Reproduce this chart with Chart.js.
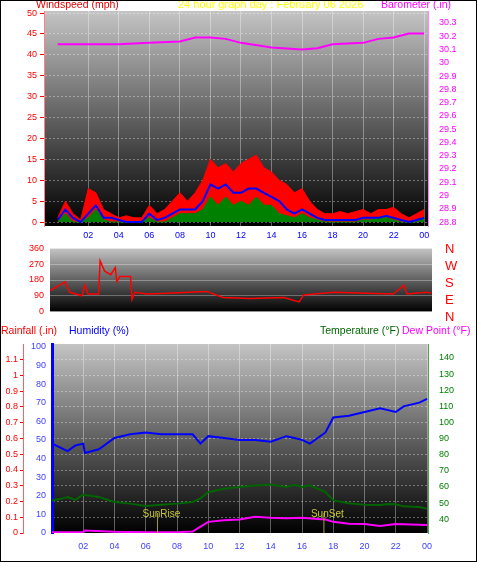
<!DOCTYPE html>
<html><head><meta charset="utf-8">
<script src="https://cdn.jsdelivr.net/npm/chart.js@4"></script>
<style>
body{margin:0;background:#fff;font-family:"Liberation Sans",Arial,sans-serif}
#wrap{position:relative;width:475px;height:560px;border:1px solid #000;overflow:hidden}
canvas{position:absolute;left:-1px}
.t{position:absolute;font-size:10.5px;white-space:nowrap}
.d{position:absolute;font-size:13px;color:#f00;left:444px}
</style></head><body><div id="wrap">
<canvas id="c1" width="477" height="245" style="top:-1px"></canvas>
<canvas id="c2" width="477" height="80" style="top:239px"></canvas>
<canvas id="c3" width="477" height="242" style="top:319px"></canvas>
<div class="t" style="left:35px;top:-3px;color:#e00000">Windspeed (mph)</div>
<div class="t" style="left:177px;top:-3px;color:#ffff00;font-size:11px">24 hour graph day : February 06 2026</div>
<div class="t" style="left:380px;top:-3px;color:#ff00ff">Barometer (.in)</div>
<div class="d" style="top:240px">N</div><div class="d" style="top:257px">W</div><div class="d" style="top:274px">S</div><div class="d" style="top:291px">E</div><div class="d" style="top:308px">N</div>
<div class="t" style="left:0px;top:323px;color:#f00">Rainfall (.in)</div>
<div class="t" style="left:68px;top:323px;color:#0000ff">Humidity (%)</div>
<div class="t" style="left:319px;top:323px;color:#006400">Temperature (°F)</div>
<div class="t" style="left:401px;top:323px;color:#ff00ff">Dew Point (°F)</div>
</div>
<script>
const hourTicks=[2,4,6,8,10,12,14,16,18,20,22,24];
const hourLabels=['02','04','06','08','10','12','14','16','18','20','22','00'];
const windHours=[0,0.5,1,1.5,2,2.5,3,3.5,4,4.5,5,5.5,6,6.5,7,7.5,8,8.5,9,9.5,10,10.5,11,11.5,12,12.5,13,13.5,14,14.5,15,15.5,16,16.5,17,17.5,18,18.5,19,19.5,20,20.5,21,21.5,22,22.5,23,23.5,24];
const windGust=[1,5,2,0.5,8,7,3,2,1,1.5,1,1,4,2,3,5,7,5,7,10,15,13,14,12,14,15,16,13,12,10,9,7,8,5,3,2,2,2.5,2,2.5,3,2,3,3,3.5,2,1,2,3];
const windAvg=[0.5,3,1,0,2,4,1,1,0.5,0,0,0,2,0.5,1,2,3,3,3,5,9,8,9,7,7,8,8,7,6,5,3,2,3,2,1,0.5,0.5,0.5,0.5,0.5,1,1,1,1.5,1,0.5,0,0.5,1];
const windMin=[0,2,0,0,1,3,0.5,0,0,0,0,0,1,0,0,1,2,2,2,3,6,4,6,4,5,4,6,4,4,2,1.5,1,2,1,0.5,0,0,0,0,0,0.5,0.5,1,1,0.5,0,0,0,1];
const baroHours=[0,4,6,8,9,10,11,12,14,16,17,18,20,21,22,23,24];
const baro=[30.14,30.14,30.15,30.16,30.19,30.19,30.18,30.15,30.115,30.10,30.11,30.14,30.15,30.18,30.19,30.22,30.22];
const dirHours=[-0.9,0.1,0.4,1.2,1.4,1.6,2.3,2.4,2.7,3.1,3.4,3.5,3.7,4.4,4.5,4.7,5.5,6.8,9.4,10.5,12.3,14.5,15.5,15.8,17.8,20,21.7,22.4,22.6,23.9,24.2];
const windDir=[120,170,110,90,150,100,100,290,230,210,250,170,200,200,70,110,100,105,115,80,75,80,55,95,110,105,100,150,100,110,105];
const thHours=[0,0.5,1,1.5,2,2.1,3,4,5,6,7,8,9,9.5,10,11,12,13,14,15,15.5,16,16.5,17.5,18,19,20,21,21.5,22,22.5,23.5,24];
const humidity=[48,46,44,47,48,43,45,51,53,54,53,53,53,48,52,51,50,50,49,52,51,50,48,54,62,63,65,67,66,65,68,70,72];
const temperature=[51.7,52.5,53.8,52,55.4,55,53.8,50.7,49.7,48.2,49,49.7,50.7,53,56.8,58.9,60,61,61.6,60,61.4,60,61,56.8,51.7,50,49,48.8,49.5,49.3,48,47.6,46.6];
const dewHours=[0,2,2.1,4,6,8,9,9.5,10,11,12,13,14,15,16,17,17.5,18,19,20,21,22,23,24];
const dewPoint=[32,32,33,32.2,32,32,32.4,35.5,38.4,39.4,39.8,41.5,40.9,40.7,41,40.2,39.8,38.4,37.3,37,35.9,37,36.8,36.5];
const rainHours=[0,24];const rainfall=[0,0];
const windTicks=[0,5,10,15,20,25,30,35,40,45,50];
const baroTicks=[28.8,28.9,29,29.1,29.2,29.3,29.4,29.5,29.6,29.7,29.8,29.9,30,30.1,30.2,30.3];
const dirTicks=[0,90,180,270,360];
const humTicks=[0,10,20,30,40,50,60,70,80,90,100];
const rainTicks=[0,0.1,0.2,0.3,0.4,0.5,0.6,0.7,0.8,0.9,1,1.1];
const tempTicks=[40,50,60,70,80,90,100,110,120,130,140];

const F={family:'"Liberation Sans",Arial',size:9};
const xy=(h,v)=>h.map((x,i)=>({x,y:v[i]}));
const bg={id:'bg',beforeDraw(c){const a=c.chartArea,g=c.ctx.createLinearGradient(0,a.top,0,a.bottom);g.addColorStop(0,'#c4c4c4');g.addColorStop(0.45,'#6a6a6a');g.addColorStop(1,'#000');c.ctx.save();c.ctx.fillStyle=g;c.ctx.fillRect(a.left,a.top,a.right-a.left,a.bottom-a.top);c.ctx.restore();}};
const fixT=arr=>s=>{s.ticks=arr.map(v=>({value:v}));};
function xs(min,max,show,color){return{type:'linear',min,max,display:show,afterBuildTicks:fixT(hourTicks),
 ticks:{color,font:F,callback:v=>hourLabels[hourTicks.indexOf(v)]??''},grid:{color:'rgba(255,255,255,0.35)',drawTicks:false},border:{display:false},afterFit:s=>{s.height=show?19:0}};}
const base={responsive:false,animation:false,plugins:{legend:{display:false},tooltip:{enabled:false}},elements:{point:{radius:0},line:{borderWidth:1.5,tension:0}}};

new Chart(c1,{type:'line',plugins:[bg],data:{datasets:[
 {data:xy(windHours,windAvg),borderColor:'#0000ff',borderWidth:2,yAxisID:'w'},
 {data:xy(windHours,windMin),borderColor:'#008000',backgroundColor:'#008000',fill:'origin',borderWidth:1,yAxisID:'w'},
 {data:xy(windHours,windGust),borderColor:'#ff0000',backgroundColor:'#ff0000',fill:'origin',borderWidth:1,yAxisID:'w'},
 {data:xy(baroHours,baro),borderColor:'#ff00ff',borderWidth:2,yAxisID:'b'}]},
 options:{...base,layout:{padding:{top:11}},scales:{
  x:{...xs(-0.9,24.25,true,'#0000ff'),ticks:{color:'#0000ff',font:F,padding:4,callback:v=>hourLabels[hourTicks.indexOf(v)]??''}},
  w:{position:'left',min:-0.95,max:50.5,afterBuildTicks:fixT(windTicks),ticks:{color:'#f00',font:F},grid:{color:'rgba(255,255,255,0.35)',tickColor:'#f00',tickLength:4},border:{color:'#ff8080',dash:[2,2]},afterFit:s=>{s.width=44}},
  b:{position:'right',min:28.77,max:30.39,afterBuildTicks:fixT(baroTicks),ticks:{color:'#f0f',font:F,callback:v=>+v.toFixed(1)},grid:{display:false},border:{color:'#ff80ff',dash:[2,2]},afterFit:s=>{s.width=49}}}}});

new Chart(c2,{type:'line',plugins:[bg],data:{datasets:[{data:xy(dirHours,windDir),borderColor:'#ff0000',borderWidth:1.5,yAxisID:'d'}]},
 options:{...base,layout:{padding:{top:8,bottom:1,right:45}},scales:{
  x:xs(-0.9,24.25,false,'#00f'),
  d:{position:'left',min:0,max:360,afterBuildTicks:fixT(dirTicks),ticks:{color:'#f00',font:F},grid:{color:'rgba(255,255,255,0.3)',tickLength:3},border:{display:false},afterFit:s=>{s.width=50}}}}});

const sun={id:'sun',afterDatasetsDraw(c){const ctx=c.ctx,x=c.scales.x,a=c.chartArea;ctx.save();ctx.strokeStyle='#a0a020';ctx.fillStyle='#c8c832';ctx.font='10px "Liberation Sans"';
 [[6.75,'SunRise',-15],[17.4,'SunSet',-13]].forEach(([h,t,o])=>{const p=x.getPixelForValue(h);ctx.beginPath();ctx.moveTo(p,a.bottom-20);ctx.lineTo(p,a.bottom);ctx.stroke();ctx.fillText(t,p+o,a.bottom-16);});ctx.restore();}};
new Chart(c3,{type:'line',plugins:[bg,sun],data:{datasets:[
 {data:xy(rainHours,rainfall),borderColor:'#ff0000',borderWidth:3,yAxisID:'r'},
 {data:xy(dewHours,dewPoint),borderColor:'#ff00ff',borderWidth:2,yAxisID:'t'},
 {data:xy(thHours,temperature),borderColor:'#006400',borderWidth:2,yAxisID:'t'},
 {data:xy(thHours,humidity),borderColor:'#0000ff',borderWidth:2,yAxisID:'h'}]},
 options:{...base,layout:{padding:{top:24}},scales:{
  x:{...xs(0,24.06,true,'#4040ff'),ticks:{color:'#4040ff',font:F,padding:8,callback:v=>hourLabels[hourTicks.indexOf(v)]??''},afterFit:s=>{s.height=29}},
  h:{position:'left',min:0,max:101.5,afterBuildTicks:fixT(humTicks),ticks:{color:'#4040ff',font:F,padding:2},grid:{display:false,tickLength:4},border:{color:'#0000ff',width:3},afterFit:s=>{s.width=29}},
  r:{position:'left',min:0,max:1.2,afterBuildTicks:fixT(rainTicks),ticks:{color:'#f00',font:F,padding:2,callback:v=>+v.toFixed(1)},grid:{color:'rgba(255,255,255,0.35)',tickColor:'#f00',tickLength:3},border:{color:'#ff6060',dash:[2,2]},afterFit:s=>{s.width=23}},
  t:{position:'right',min:31.5,max:148.6,afterBuildTicks:fixT(tempTicks),ticks:{color:'#008000',font:F},grid:{display:false},border:{color:'#50a050',dash:[2,2]},afterFit:s=>{s.width=49}}}}});
</script></body></html>
